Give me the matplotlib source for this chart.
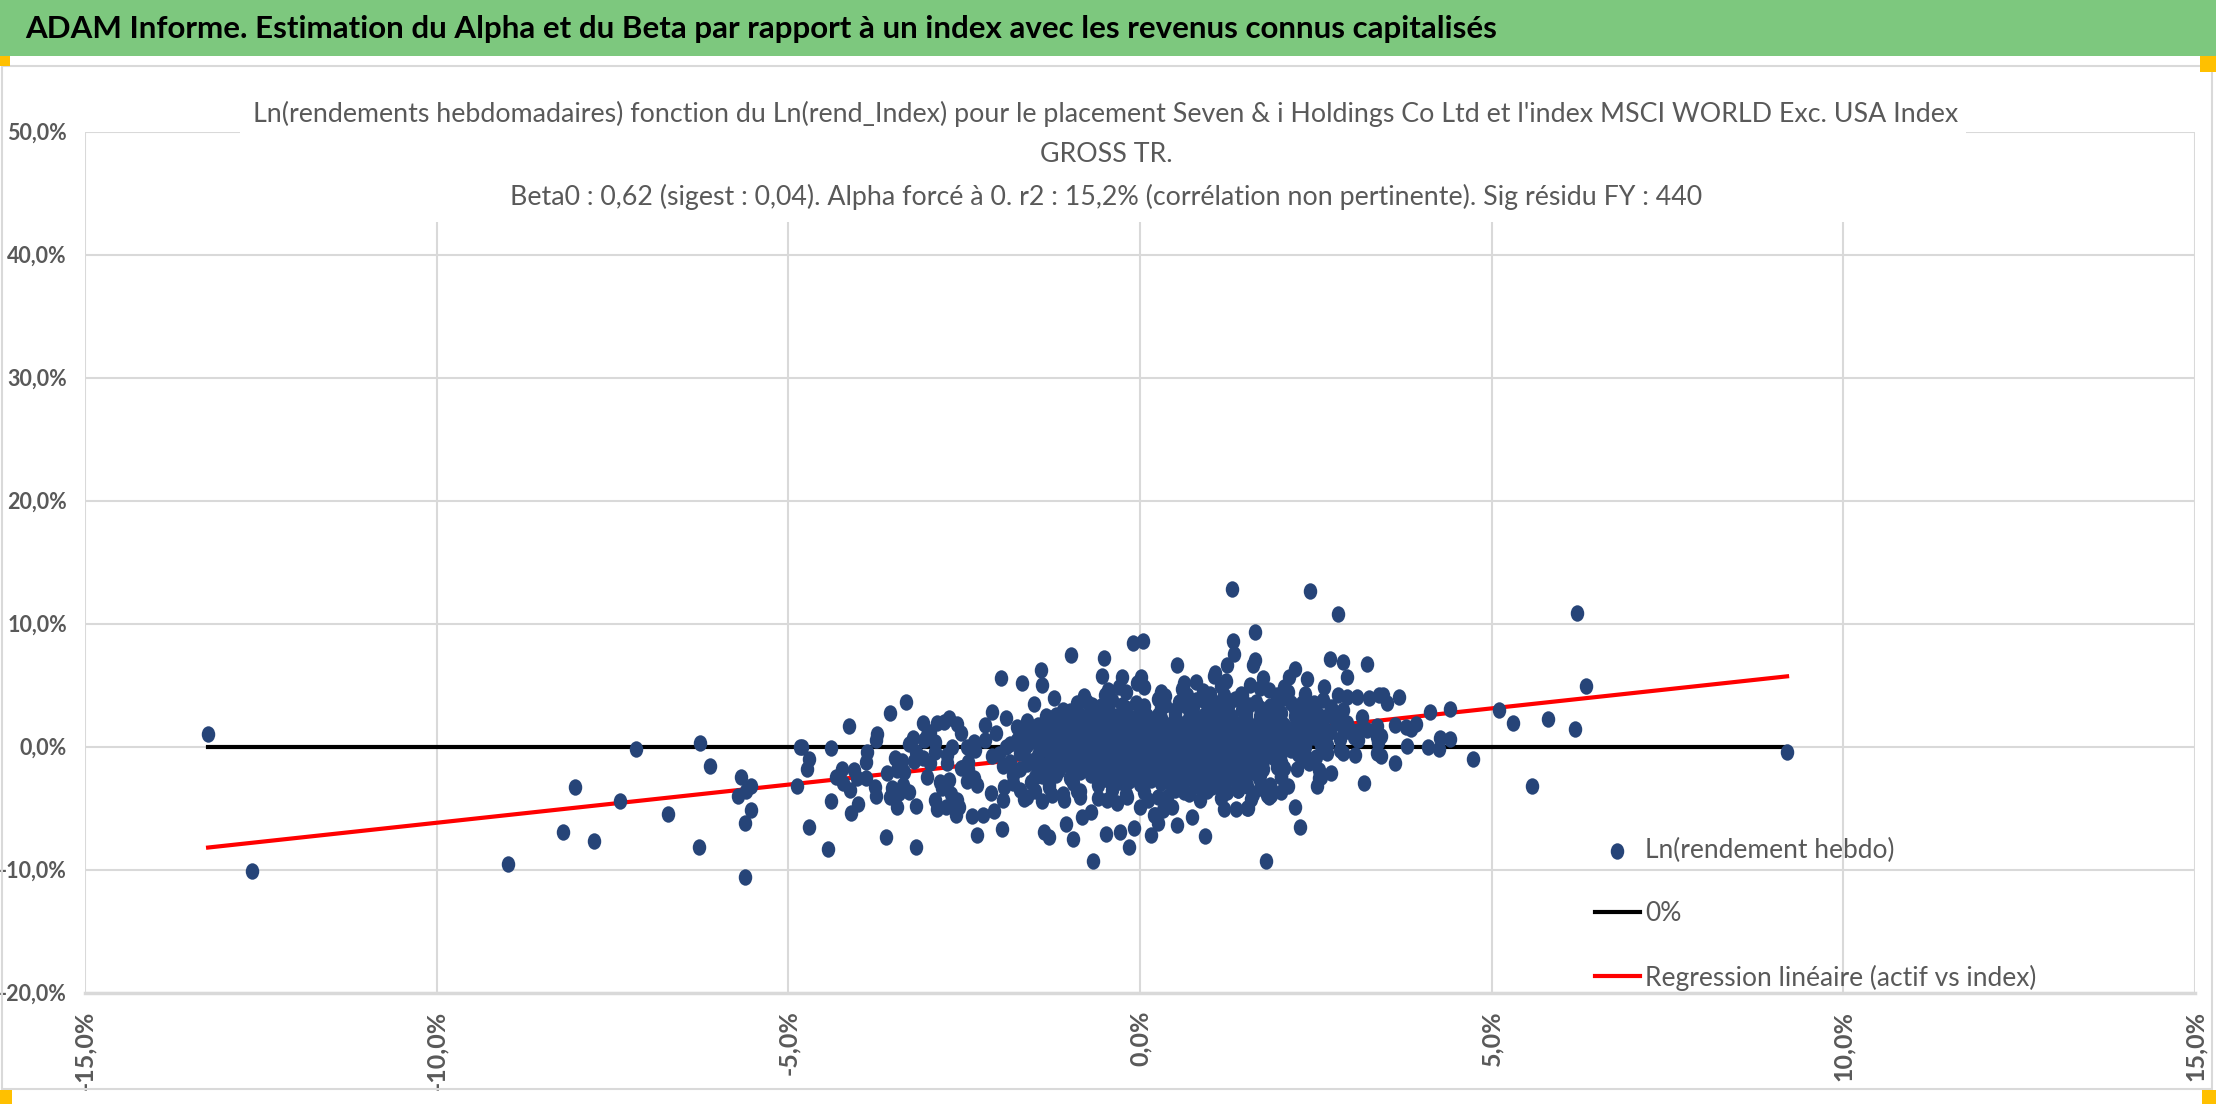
import matplotlib.pyplot as plt
import matplotlib.patches as mpatches
import matplotlib.ticker as mtick
from matplotlib.path import Path
import numpy as np

plt.rcParams['font.family'] = ['Lato', 'DejaVu Sans']

# weekly log returns in %, (index, asset)
pts_left = [(-13.25, 1.0), (-12.63, -10.1), (-8.99, -9.55), (-8.21, -6.95), (-8.03, -3.3), (-7.76, -7.7),
            (-7.39, -4.4), (-7.17, -0.2), (-6.71, -5.45), (-6.27, -8.15), (-6.25, 0.25), (-6.11, -1.55),
            (-5.67, -2.45), (-5.53, -3.2), (-5.6, -3.65), (-5.71, -4.05), (-5.53, -5.15), (-5.62, -6.2),
            (-5.62, -10.65), (-4.87, -3.2), (-4.83, 0.0)]

pts_mid_left = [(-3.32, 3.59), (-3.56, 2.75), (-4.14, 1.67), (-3.74, 1.02), (-3.76, 0.53), (-4.8, -0.04),
                (-4.4, -0.15), (-4.7, -1.0), (-4.73, -1.83), (-4.24, -1.83), (-4.32, -2.5), (-4.22, -3.0),
                (-4.13, -3.54), (-4.4, -4.4), (-4.11, -5.38), (-4.01, -4.7), (-4.06, -1.91), (-4.03, -2.59),
                (-3.89, -2.59), (-3.9, -1.29), (-3.88, -0.47), (-3.77, -3.27), (-3.76, -4.02), (-4.71, -6.57),
                (-4.43, -8.36), (-3.61, -7.33), (-3.18, -8.15), (-3.45, -4.89), (-3.18, -4.81), (-3.6, -2.18),
                (-3.48, -0.96), (-3.38, -1.15), (-3.45, -1.91), (-3.35, -2.05), (-3.52, -3.4), (-3.55, -4.08),
                (-3.43, -3.81), (-3.37, -3.13), (-3.29, -3.67), (-3.29, 0.2), (-3.23, 0.67), (-3.18, -0.42),
                (-3.22, -1.18), (-3.08, 1.89), (-3.03, 0.93), (-3.07, 0.53), (-2.99, 1.2), (-2.89, 1.89),
                (-2.79, 2.02), (-2.71, 2.29), (-2.6, 1.83), (-2.54, 1.07), (-2.92, 0.39), (-2.91, -0.42),
                (-3.08, -0.96), (-2.98, -1.37), (-3.03, -2.45), (-2.84, -2.86), (-2.81, -3.4), (-2.72, -2.72),
                (-2.69, -3.86), (-2.92, -4.35), (-2.89, -5.11), (-2.76, -4.94), (-2.6, -4.35), (-2.57, -4.94),
                (-2.61, -5.57), (-2.75, -1.37), (-2.74, -0.69), (-2.67, -0.02), (-2.55, -1.77), (-2.5, -1.64),
                (-2.44, -1.24), (-2.46, 0.0), (-2.36, 0.39), (-2.34, -0.28), (-2.46, -2.78), (-2.36, -2.59),
                (-2.32, -3.13), (-2.39, -5.65), (-2.32, -7.2), (-2.44, -1.86)]

pts_mid = [(-1.97, 5.54), (-1.68, 5.19), (-1.41, 6.22), (-1.4, 4.97), (-0.98, 7.41), (-0.51, 7.22),
           (-0.54, 5.73), (-0.1, 8.44), (0.04, 8.55), (-0.25, 5.67), (-1.22, 3.97), (-1.51, 3.43),
           (-2.1, 2.83), (-2.2, 1.75), (-1.9, 2.34), (-1.34, 2.48), (-0.89, 3.56), (-0.68, 3.37),
           (-0.5, 4.19), (-0.3, 4.81), (-0.04, 5.14), (0.01, 5.63), (0.53, 6.63), (-2.12, -3.75),
           (-2.23, -5.57), (-2.07, -5.22), (-1.96, -6.73), (-1.95, -4.35), (-1.65, -4.29), (-1.6, -4.08),
           (-1.39, -4.4), (-1.37, -6.92), (-1.3, -7.33), (-1.05, -6.3), (-0.95, -7.55), (-0.67, -9.28),
           (-0.82, -5.7), (-0.49, -7.11), (-0.29, -6.92), (-0.15, -8.14), (-0.09, -6.65), (0.15, -7.2),
           (0.0, -4.89), (0.2, -5.57), (0.32, -5.16), (0.53, -6.38), (-0.32, -4.62), (-0.7, -5.3),
           (-1.08, -4.35), (-1.25, -3.94), (-1.8, -2.99), (-1.93, -3.27), (-1.7, -3.54), (-0.85, -4.08),
           (-0.47, -4.35), (-0.18, -4.08), (0.11, -4.35), (0.39, -4.08), (0.26, -6.2), (0.21, -5.57),
           (0.45, -4.9), (-2.2, 0.5), (-2.1, -0.8), (-2.05, 1.1), (-1.95, -1.6), (-1.85, 0.2),
           (-1.8, -2.3), (-1.75, 1.6), (-1.65, -0.3), (-1.6, 2.1), (-1.55, -2.9), (-1.5, 0.9),
           (-1.45, -1.9), (-1.35, 1.4), (-1.3, -3.3), (-1.2, 2.6), (-1.15, -0.9), (-1.1, 3.0),
           (-1.0, -2.6), (-0.95, 1.0), (-0.9, -3.6), (-0.85, 2.2)]

pts_core = [(-0.2, 4.4), (0.35, 4.1), (0.9, 4.5), (1.45, 4.2), (2.1, 4.4),
            (-0.75, 3.6), (-0.4, 3.8), (-0.05, 3.55), (0.25, 3.85), (0.55, 3.6), (0.8, 3.75), (1.1, 3.5),
            (1.35, 3.9), (1.65, 3.6), (1.95, 3.8), (2.3, 3.55),
            (-1.0, 2.9), (-0.7, 3.1), (-0.45, 2.95), (-0.2, 3.15), (0.05, 2.9), (0.3, 3.1), (0.5, 2.95),
            (0.75, 3.2), (1.0, 2.9), (1.2, 3.1), (1.45, 2.95), (1.7, 3.15), (1.9, 2.9), (2.2, 3.05), (2.5, 2.9),
            (-1.25, 2.3), (-0.9, 2.5), (-0.6, 2.35), (-0.35, 2.45), (-0.1, 2.3), (0.1, 2.5), (0.3, 2.35),
            (0.5, 2.45), (0.7, 2.3), (0.9, 2.5), (1.1, 2.35), (1.3, 2.45), (1.5, 2.3), (1.7, 2.5), (1.95, 2.35),
            (2.2, 2.45), (2.45, 2.3), (2.75, 2.5),
            (-1.45, 1.75), (-1.1, 1.85), (-0.85, 1.7), (-0.6, 1.9), (-0.4, 1.75), (-0.2, 1.85), (0.0, 1.7),
            (0.2, 1.9), (0.4, 1.75), (0.6, 1.85), (0.8, 1.7), (1.0, 1.9), (1.2, 1.75), (1.4, 1.85), (1.6, 1.7),
            (1.85, 1.9), (2.05, 1.75), (2.3, 1.85), (2.6, 1.7), (2.95, 1.9),
            (-1.6, 1.15), (-1.3, 1.25), (-1.05, 1.1), (-0.8, 1.3), (-0.6, 1.15), (-0.4, 1.25), (-0.2, 1.1),
            (0.0, 1.3), (0.15, 1.15), (0.35, 1.25), (0.55, 1.1), (0.75, 1.3), (0.95, 1.15), (1.15, 1.25),
            (1.35, 1.1), (1.55, 1.3), (1.75, 1.15), (1.95, 1.25), (2.15, 1.1), (2.4, 1.3), (2.7, 1.15), (3.1, 1.25),
            (-1.75, 0.55), (-1.45, 0.65), (-1.2, 0.5), (-0.95, 0.7), (-0.75, 0.55), (-0.55, 0.65), (-0.35, 0.5),
            (-0.15, 0.7), (0.05, 0.55), (0.25, 0.65), (0.45, 0.5), (0.65, 0.7), (0.85, 0.55), (1.05, 0.65),
            (1.25, 0.5), (1.45, 0.7), (1.65, 0.55), (1.85, 0.65), (2.05, 0.5), (2.3, 0.7), (2.55, 0.55), (2.85, 0.65),
            (-1.9, -0.05), (-1.6, 0.1), (-1.35, -0.1), (-1.1, 0.05), (-0.9, -0.05), (-0.7, 0.1), (-0.5, -0.1),
            (-0.3, 0.05), (-0.1, -0.05), (0.1, 0.1), (0.3, -0.1), (0.5, 0.05), (0.7, -0.05), (0.9, 0.1),
            (1.1, -0.1), (1.3, 0.05), (1.5, -0.05), (1.7, 0.1), (1.9, -0.1), (2.1, 0.05), (2.35, -0.05), (2.6, 0.1),
            (-2.0, -0.65), (-1.7, -0.55), (-1.45, -0.7), (-1.2, -0.5), (-1.0, -0.65), (-0.8, -0.55), (-0.6, -0.7),
            (-0.4, -0.5), (-0.2, -0.65), (0.0, -0.55), (0.2, -0.7), (0.4, -0.5), (0.6, -0.65), (0.8, -0.55),
            (1.0, -0.7), (1.2, -0.5), (1.4, -0.65), (1.6, -0.55), (1.8, -0.7), (2.0, -0.5), (2.25, -0.65),
            (-1.85, -1.25), (-1.55, -1.15), (-1.3, -1.3), (-1.05, -1.1), (-0.85, -1.25), (-0.65, -1.15),
            (-0.45, -1.3), (-0.25, -1.1), (-0.05, -1.25), (0.15, -1.15), (0.35, -1.3), (0.55, -1.1), (0.75, -1.25),
            (0.95, -1.15), (1.15, -1.3), (1.35, -1.1), (1.55, -1.25), (1.75, -1.15), (2.0, -1.3), (2.3, -1.1),
            (-1.7, -1.85), (-1.4, -1.75), (-1.15, -1.9), (-0.9, -1.7), (-0.7, -1.85), (-0.5, -1.75), (-0.3, -1.9),
            (-0.1, -1.7), (0.1, -1.85), (0.3, -1.75), (0.5, -1.9), (0.7, -1.7), (0.9, -1.85), (1.1, -1.75),
            (1.3, -1.9), (1.5, -1.7), (1.75, -1.85), (2.05, -1.75),
            (-1.5, -2.45), (-1.2, -2.35), (-0.95, -2.5), (-0.7, -2.3), (-0.45, -2.45), (-0.25, -2.35), (0.0, -2.5),
            (0.2, -2.3), (0.45, -2.45), (0.7, -2.35), (0.95, -2.5), (1.2, -2.3), (1.45, -2.45), (1.7, -2.35), (2.0, -2.5),
            (-1.3, -3.05), (-0.95, -2.95), (-0.6, -3.1), (-0.3, -2.9), (0.0, -3.05), (0.3, -2.95), (0.6, -3.1),
            (0.9, -2.9), (1.2, -3.05), (1.5, -2.95), (1.85, -3.1),
            (-0.85, -3.65), (-0.4, -3.55), (0.05, -3.7), (0.5, -3.5), (0.95, -3.65), (1.4, -3.55)]

# densest weeks, between the rows above
pts_core2 = [(-0.55, 3.3), (-0.25, 3.4), (0.05, 3.3), (0.35, 3.4), (0.65, 3.3), (0.95, 3.4), (1.25, 3.3),
             (1.55, 3.4), (1.85, 3.3),
             (-0.85, 2.6), (-0.55, 2.7), (-0.25, 2.6), (0.0, 2.7), (0.25, 2.6), (0.5, 2.7), (0.75, 2.6),
             (1.0, 2.7), (1.25, 2.6), (1.5, 2.7), (1.75, 2.6), (2.0, 2.7), (2.35, 2.6),
             (-1.0, 2.0), (-0.75, 2.1), (-0.5, 2.0), (-0.25, 2.1), (0.0, 2.0), (0.25, 2.1), (0.5, 2.0),
             (0.75, 2.1), (1.0, 2.0), (1.25, 2.1), (1.5, 2.0), (1.75, 2.1), (2.0, 2.0), (2.25, 2.1),
             (-1.2, 1.4), (-0.95, 1.5), (-0.7, 1.4), (-0.5, 1.5), (-0.3, 1.4), (-0.1, 1.5), (0.1, 1.4),
             (0.3, 1.5), (0.5, 1.4), (0.7, 1.5), (0.9, 1.4), (1.1, 1.5), (1.3, 1.4), (1.5, 1.5), (1.7, 1.4),
             (1.9, 1.5), (2.15, 1.4), (2.5, 1.5),
             (-1.3, 0.8), (-1.05, 0.9), (-0.85, 0.8), (-0.65, 0.9), (-0.45, 0.8), (-0.25, 0.9), (-0.05, 0.8),
             (0.15, 0.9), (0.35, 0.8), (0.55, 0.9), (0.75, 0.8), (0.95, 0.9), (1.15, 0.8), (1.35, 0.9),
             (1.55, 0.8), (1.75, 0.9), (1.95, 0.8), (2.2, 0.9),
             (-1.45, 0.2), (-1.2, 0.3), (-1.0, 0.2), (-0.8, 0.3), (-0.6, 0.2), (-0.4, 0.3), (-0.2, 0.2),
             (0.0, 0.3), (0.2, 0.2), (0.4, 0.3), (0.6, 0.2), (0.8, 0.3), (1.0, 0.2), (1.2, 0.3), (1.4, 0.2),
             (1.6, 0.3), (1.8, 0.2), (2.0, 0.3), (2.25, 0.2),
             (-1.3, -0.4), (-1.1, -0.3), (-0.9, -0.4), (-0.7, -0.3), (-0.5, -0.4), (-0.3, -0.3), (-0.1, -0.4),
             (0.1, -0.3), (0.3, -0.4), (0.5, -0.3), (0.7, -0.4), (0.9, -0.3), (1.1, -0.4), (1.3, -0.3),
             (1.5, -0.4), (1.7, -0.3), (1.9, -0.4), (2.15, -0.3),
             (-1.2, -1.0), (-0.95, -0.9), (-0.75, -1.0), (-0.55, -0.9), (-0.35, -1.0), (-0.15, -0.9),
             (0.05, -1.0), (0.25, -0.9), (0.45, -1.0), (0.65, -0.9), (0.85, -1.0), (1.05, -0.9), (1.25, -1.0),
             (1.45, -0.9), (1.65, -1.0), (1.9, -0.9),
             (-1.0, -1.6), (-0.8, -1.5), (-0.6, -1.6), (-0.4, -1.5), (-0.2, -1.6), (0.0, -1.5), (0.2, -1.6),
             (0.4, -1.5), (0.6, -1.6), (0.8, -1.5), (1.0, -1.6), (1.2, -1.5), (1.4, -1.6), (1.65, -1.5),
             (-0.85, -2.1), (-0.6, -2.2), (-0.35, -2.1), (-0.1, -2.2), (0.1, -2.1), (0.35, -2.2), (0.6, -2.1),
             (0.85, -2.2), (1.1, -2.1), (1.35, -2.2), (1.6, -2.1),
             (-0.45, -2.7), (-0.15, -2.8), (0.15, -2.7), (0.45, -2.8), (0.75, -2.7), (1.05, -2.8), (1.35, -2.7)]

# edges of the dense cloud
pts_fringe = [(-0.45, 4.6), (0.05, 4.8), (0.6, 4.7), (1.15, 4.9), (1.7, 4.75), (2.35, 4.3), (0.3, 4.45),
              (1.0, 4.3), (-0.8, 4.1), (1.95, 4.2), (2.6, 3.8),
              (-1.1, -3.9), (-0.6, -4.2), (-0.2, -3.9), (0.25, -4.1), (0.7, -3.9), (1.15, -4.2), (1.6, -3.9),
              (2.0, -3.7), (-1.5, -3.6), (0.45, -3.3), (1.7, -3.4),
              (-1.4, -2.4), (-1.6, -1.4), (-1.25, 1.9), (-1.5, 1.5), (-1.7, 0.9), (-1.3, -2.0)]

pts_mid_right = [(1.31, 12.83), (2.42, 12.64), (2.81, 10.8), (1.64, 9.31), (1.32, 8.55), (1.33, 7.52),
                 (1.63, 7.03), (1.61, 6.63), (1.23, 6.63), (1.05, 5.73), (1.07, 5.95), (1.22, 5.33),
                 (2.7, 7.09), (2.89, 6.87), (3.23, 6.71), (2.2, 6.27), (2.38, 5.51), (2.12, 5.67),
                 (2.95, 5.67), (1.75, 5.59), (2.61, 4.86), (2.05, 4.86), (1.57, 5.0), (0.79, 5.27),
                 (0.62, 5.14), (2.81, 4.19), (2.95, 4.05), (3.09, 4.05), (3.26, 3.92), (3.4, 4.2),
                 (0.67, 4.2), (0.86, 3.9), (1.19, 4.2), (1.43, 4.3), (1.83, 4.6), (2.0, 3.9), (2.14, 3.5),
                 (1.79, -9.28), (0.93, -7.25), (0.74, -5.7), (1.19, -5.08), (1.37, -5.08), (1.52, -4.97),
                 (1.58, -4.29), (1.8, -3.97), (1.86, -3.97), (2.21, -4.89), (2.28, -6.57), (2.11, -3.21),
                 (2.52, -3.21), (2.72, -2.18), (3.19, -2.99), (0.86, -4.35), (0.62, -3.67), (1.03, -3.27),
                 (1.24, -3.67), (1.4, -3.54), (1.69, -2.59), (1.95, -1.64), (2.23, -1.86), (2.4, -1.37),
                 (2.54, -1.91), (2.54, -2.6), (2.66, -0.56), (2.88, -0.56), (3.05, -0.69), (3.37, -0.56),
                 (2.57, -2.45), (2.28, 1.75), (2.45, 0.8), (2.57, 0.12), (2.66, 1.07), (2.81, 1.89),
                 (2.9, 1.2), (3.04, 0.8), (3.16, 2.42), (3.23, 1.34), (3.37, 1.67), (3.37, 0.8),
                 (2.71, 3.24), (2.89, 2.97), (2.47, 3.51), (2.61, 2.42), (2.75, 2.42), (2.33, 2.97),
                 (2.47, 2.7), (2.66, 0.12), (2.84, -0.28), (2.5, -0.83), (2.36, -0.83), (0.67, -2.6),
                 (0.81, -3.2), (1.0, -2.4), (1.14, -3.2), (1.33, -2.6), (1.52, -3.2), (1.71, -2.1),
                 (1.85, -3.2), (2.0, -2.4), (1.54, -5.0), (1.83, -4.08)]

pts_right = [(6.22, 10.88), (3.46, 4.19), (3.51, 3.51), (3.68, 4.05), (4.12, 2.83), (4.41, 3.05),
             (3.63, 1.75), (3.78, 1.61), (3.85, 1.4), (3.93, 1.83), (3.42, 0.88), (3.42, -0.77),
             (3.62, -1.32), (3.79, 0.07), (4.09, 0.0), (4.25, -0.23), (4.26, 0.72), (4.41, 0.61),
             (4.73, -0.99), (5.11, 2.97), (5.3, 1.94), (5.8, 2.21), (5.58, -3.21), (6.19, 1.42),
             (6.34, 4.92), (9.2, -0.42), (3.38, 0.36), (3.1, 0.53), (3.02, 1.3), (2.83, 2.15)]

beta0 = 0.62
x_ticks = [-15, -10, -5, 0, 5, 10, 15]
y_ticks = [-20, -10, 0, 10, 20, 30, 40, 50]

header = "ADAM Informe. Estimation du Alpha et du Beta par rapport à un index avec les revenus connus capitalisés"
title_lines = ["Ln(rendements hebdomadaires) fonction du Ln(rend_Index) pour le placement Seven & i Holdings Co Ltd et l'index MSCI WORLD Exc. USA Index",
               "GROSS TR.",
               "Beta0 : 0,62 (sigest : 0,04). Alpha forcé à 0. r2 : 15,2% (corrélation non pertinente). Sig résidu FY : 440"]
legend_labels = ["Ln(rendement hebdo)", "0%", "Regression linéaire (actif vs index)"]

pts = np.array(pts_left + pts_mid_left + pts_mid + pts_core + pts_core2 + pts_fringe + pts_mid_right + pts_right)
x = pts[:, 0]
y = pts[:, 1]

W, H = 2216, 1104
fig = plt.figure(figsize=(W / 100, H / 100), dpi=100)


def fx(px):
    return px / W


def fy(py):
    return 1 - py / H


grey = '#595959'
grid = '#d9d9d9'

# header band and chart frame
fig.patches.append(mpatches.Rectangle((0, fy(56)), 1, fy(0) - fy(56), transform=fig.transFigure,
                                      facecolor='#7dc87e', edgecolor='none', zorder=0))
fig.patches.append(mpatches.Rectangle((fx(2), fy(1089)), fx(2210), fy(66) - fy(1089), transform=fig.transFigure,
                                      facecolor='none', edgecolor=grid, lw=1.5, zorder=0))
for (px, py, w, h) in [(0, 56, 10, 10), (2200, 56, 16, 16), (0, 1090, 12, 14), (2202, 1090, 14, 14)]:
    fig.patches.append(mpatches.Rectangle((fx(px), fy(py + h)), fx(w), h / H, transform=fig.transFigure,
                                          facecolor='#ffc000', edgecolor='none', zorder=5))
fig.text(fx(25), fy(29), header, fontsize=22.5, fontweight='bold', color='black', va='center', ha='left')

ax = fig.add_axes([fx(85), fy(992.5), fx(2195) - fx(85), fy(131.5) - fy(992.5)])
ax.set_xlim(-15, 15)
ax.set_ylim(-20, 50)
ax.set_xticks(x_ticks)
ax.set_yticks(y_ticks)
fmt = mtick.FuncFormatter(lambda v, _: f"{v:.1f}%".replace('.', ','))
ax.xaxis.set_major_formatter(fmt)
ax.yaxis.set_major_formatter(fmt)
ax.grid(True, color=grid, lw=1.5, zorder=0)
ax.set_axisbelow(True)
for s in ['top', 'right', 'left']:
    ax.spines[s].set_visible(False)
ax.spines['bottom'].set_color(grid)
ax.spines['bottom'].set_linewidth(2.5)
ax.tick_params(length=0)
ax.tick_params(axis='y', pad=13, labelsize=15.5, labelcolor=grey)
ax.tick_params(axis='x', pad=13, labelsize=18, labelcolor=grey, labelrotation=90)
for lab in ax.get_xticklabels() + ax.get_yticklabels():
    lab.set_fontweight('bold')

# ellipse marker, the picture is squeezed sideways
circ = Path.unit_circle()
dot = Path(circ.vertices * np.array([0.82, 1.0]), circ.codes)

xs = np.array([x.min(), x.max()])
ax.plot(xs, [0, 0], color='black', lw=3, zorder=2, label=legend_labels[1])
ax.plot(xs, beta0 * xs, color='#ff0000', lw=3, zorder=2, label=legend_labels[2])
ax.scatter(x, y, s=140, marker=dot, color='#264478', linewidths=0, zorder=3, label=legend_labels[0])

handles, labels = ax.get_legend_handles_labels()
order = [2, 0, 1]
ax.legend([handles[i] for i in order], [labels[i] for i in order], loc='upper left',
          bbox_to_anchor=(fx(1595), fy(838)), bbox_transform=fig.transFigure, frameon=False,
          fontsize=19, labelcolor=grey, handlelength=1.7, handletextpad=0.2, labelspacing=1.45,
          borderpad=0, borderaxespad=0, scatterpoints=1)

# title box over the top of the plot
fig.patches.append(mpatches.Rectangle((fx(240), fy(222)), fx(1966 - 240), fy(88) - fy(222),
                                      transform=fig.transFigure, facecolor='white', edgecolor='none', zorder=4))
for txt, py in zip(title_lines, [114, 155, 197]):
    fig.text(fx(1106), fy(py), txt, fontsize=19.3, color=grey, ha='center', va='center', zorder=6)

fig.savefig('out.png', dpi=100)
